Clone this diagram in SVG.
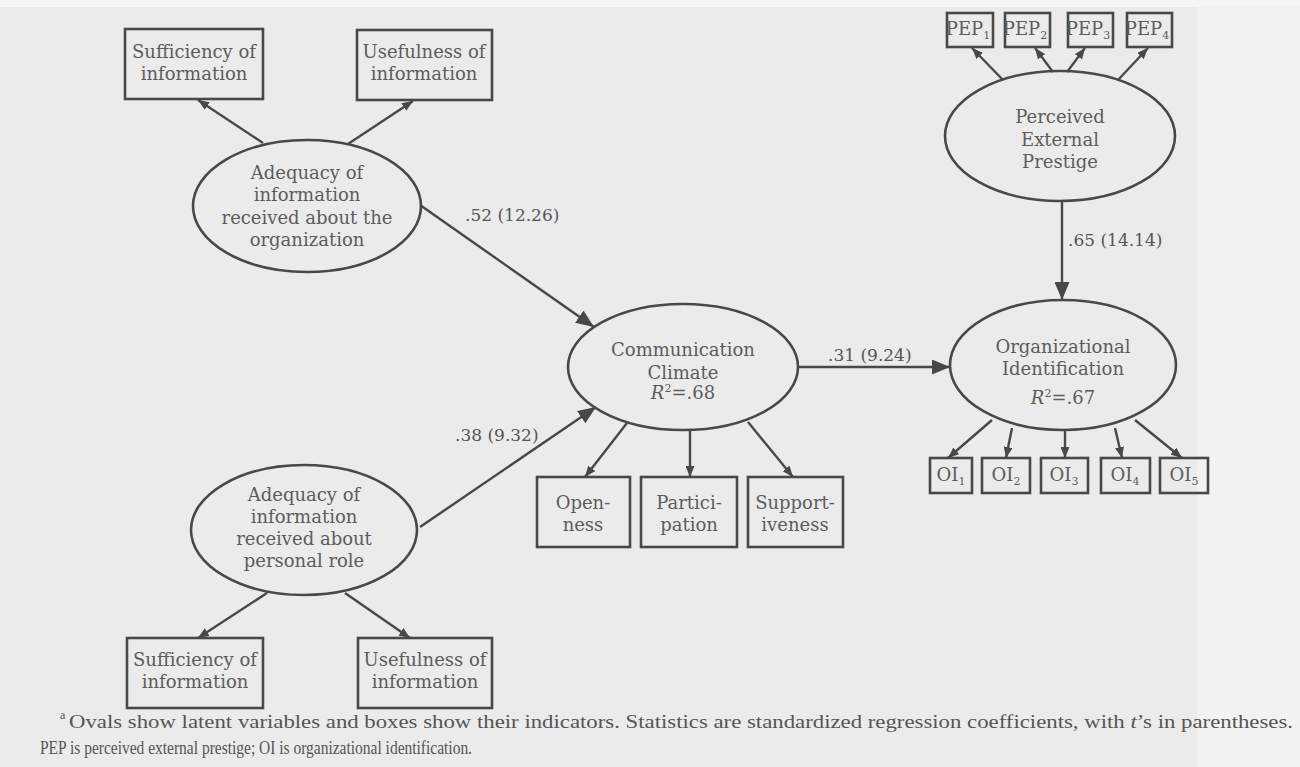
<svg xmlns="http://www.w3.org/2000/svg" width="1300" height="767" viewBox="0 0 1300 767">
<style>
.bg{fill:#ebebeb}
.node ellipse,.node rect{fill:none;stroke:#484848;stroke-width:2.6}
.t{font-family:"DejaVu Serif","Liberation Serif",serif;font-size:18px;fill:#5c5c5c;text-anchor:middle}
.lbl{font-family:"DejaVu Serif","Liberation Serif",serif;font-size:17px;fill:#555;text-anchor:start}
.ind line{stroke:#484848;stroke-width:2.4;marker-end:url(#ah)}
.path line{stroke:#484848;stroke-width:2.4;marker-end:url(#ahb)}
.fn{font-family:"Liberation Serif",serif;font-size:19px;fill:#555}
.sup{font-family:"Liberation Serif",serif;font-size:12px;fill:#555}
</style>
<defs>
<marker id="ah" viewBox="0 0 10 10" refX="10" refY="5" markerWidth="11" markerHeight="9" markerUnits="userSpaceOnUse" orient="auto" preserveAspectRatio="none"><path d="M0,0 L10,5 L0,10 z" fill="#484848"/></marker>
<marker id="ahb" viewBox="0 0 10 10" refX="10" refY="5" markerWidth="18" markerHeight="15" markerUnits="userSpaceOnUse" orient="auto" preserveAspectRatio="none"><path d="M0,0 L10,5 L0,10 z" fill="#484848"/></marker>
</defs>
<rect class="bg" x="0" y="0" width="1300" height="767"/>
<rect x="1197" y="0" width="103" height="767" fill="#f2f2f2"/>
<rect x="0" y="0" width="1300" height="7" fill="#f6f6f6"/>

<g id="connectors">
<g class="ind">
<line x1="263" y1="143" x2="198" y2="100"/>
<line x1="348" y1="144" x2="413" y2="101"/>
<line x1="267" y1="593" x2="198" y2="638"/>
<line x1="345" y1="593" x2="410" y2="638"/>
<line x1="627" y1="423" x2="585" y2="477"/>
<line x1="690" y1="430" x2="690" y2="477"/>
<line x1="748" y1="422" x2="793" y2="477"/>
<line x1="1003" y1="80" x2="972" y2="48"/>
<line x1="1053" y1="72" x2="1035" y2="48"/>
<line x1="1067" y1="72" x2="1085" y2="48"/>
<line x1="1118" y1="80" x2="1148" y2="48"/>
<line x1="992" y1="420" x2="948" y2="458"/>
<line x1="1012" y1="428" x2="1006" y2="458"/>
<line x1="1065" y1="430" x2="1065" y2="458"/>
<line x1="1115" y1="428" x2="1122" y2="458"/>
<line x1="1135" y1="420" x2="1182" y2="458"/>
</g>
<g class="path">
<line x1="420" y1="205" x2="594" y2="327"/>
<line x1="420" y1="527" x2="596" y2="407"/>
<line x1="798" y1="367" x2="950" y2="367"/>
<line x1="1062" y1="201" x2="1062" y2="300"/>
</g>
<text class="lbl" x="465" y="221">.52 (12.26)</text>
<text class="lbl" x="455" y="441">.38 (9.32)</text>
<text class="lbl" x="828" y="361">.31 (9.24)</text>
<text class="lbl" x="1068" y="246">.65 (14.14)</text>
</g>

<g id="suff-org" class="node"><rect x="125" y="29" width="138" height="70"/><text class="t" x="194" y="58">Sufficiency of</text><text class="t" x="194" y="80">information</text></g>
<g id="use-org" class="node"><rect x="357" y="30" width="135" height="70"/><text class="t" x="424" y="58">Usefulness of</text><text class="t" x="424" y="80">information</text></g>
<g id="adeq-org" class="node"><ellipse cx="307" cy="206" rx="114" ry="66"/>
<text class="t" x="307" y="179">Adequacy of</text><text class="t" x="307" y="201">information</text><text class="t" x="307" y="224">received about the</text><text class="t" x="307" y="246">organization</text></g>

<g id="adeq-role" class="node"><ellipse cx="304" cy="530" rx="113" ry="65"/>
<text class="t" x="304" y="501">Adequacy of</text><text class="t" x="304" y="523">information</text><text class="t" x="304" y="545">received about</text><text class="t" x="304" y="567">personal role</text></g>
<g id="suff-role" class="node"><rect x="127" y="638" width="136" height="70"/><text class="t" x="195" y="666">Sufficiency of</text><text class="t" x="195" y="688">information</text></g>
<g id="use-role" class="node"><rect x="358" y="638" width="134" height="70"/><text class="t" x="425" y="666">Usefulness of</text><text class="t" x="425" y="688">information</text></g>

<g id="comm" class="node"><ellipse cx="683" cy="367" rx="115" ry="63"/>
<text class="t" x="683" y="356">Communication</text><text class="t" x="683" y="379">Climate</text>
<text class="t" x="683" y="399"><tspan font-style="italic">R</tspan><tspan font-size="11" dy="-7">2</tspan><tspan dy="7">=.68</tspan></text></g>
<g id="open" class="node"><rect x="537" y="477" width="93" height="70"/><text class="t" x="583" y="509">Open-</text><text class="t" x="583" y="531">ness</text></g>
<g id="part" class="node"><rect x="641" y="477" width="96" height="70"/><text class="t" x="689" y="509">Partici-</text><text class="t" x="689" y="531">pation</text></g>
<g id="supp" class="node"><rect x="748" y="477" width="95" height="70"/><text class="t" x="795" y="509">Support-</text><text class="t" x="795" y="531">iveness</text></g>

<g id="pep" class="node"><ellipse cx="1060" cy="136" rx="115" ry="65"/>
<text class="t" x="1060" y="123">Perceived</text><text class="t" x="1060" y="146">External</text><text class="t" x="1060" y="168">Prestige</text></g>
<g id="pep1" class="node"><rect x="947" y="13" width="46" height="34"/><text class="t" x="968" y="35">PEP<tspan font-size="11" dy="4">1</tspan></text></g>
<g id="pep2" class="node"><rect x="1005" y="13" width="45" height="34"/><text class="t" x="1025" y="35">PEP<tspan font-size="11" dy="4">2</tspan></text></g>
<g id="pep3" class="node"><rect x="1068" y="13" width="45" height="34"/><text class="t" x="1088" y="35">PEP<tspan font-size="11" dy="4">3</tspan></text></g>
<g id="pep4" class="node"><rect x="1127" y="13" width="45" height="34"/><text class="t" x="1147" y="35">PEP<tspan font-size="11" dy="4">4</tspan></text></g>

<g id="oi" class="node"><ellipse cx="1063" cy="365" rx="113" ry="65"/>
<text class="t" x="1063" y="353">Organizational</text><text class="t" x="1063" y="375">Identification</text>
<text class="t" x="1063" y="404"><tspan font-style="italic">R</tspan><tspan font-size="11" dy="-7">2</tspan><tspan dy="7">=.67</tspan></text></g>
<g id="oi1" class="node"><rect x="930" y="458" width="42" height="35"/><text class="t" x="951" y="481">OI<tspan font-size="11" dy="4">1</tspan></text></g>
<g id="oi2" class="node"><rect x="982" y="458" width="48" height="35"/><text class="t" x="1006" y="481">OI<tspan font-size="11" dy="4">2</tspan></text></g>
<g id="oi3" class="node"><rect x="1041" y="458" width="47" height="35"/><text class="t" x="1064" y="481">OI<tspan font-size="11" dy="4">3</tspan></text></g>
<g id="oi4" class="node"><rect x="1101" y="458" width="49" height="35"/><text class="t" x="1125" y="481">OI<tspan font-size="11" dy="4">4</tspan></text></g>
<g id="oi5" class="node"><rect x="1160" y="458" width="48" height="35"/><text class="t" x="1184" y="481">OI<tspan font-size="11" dy="4">5</tspan></text></g>

<g id="footnote">
<text class="sup" x="60" y="719">a</text>
<text class="fn" x="69" y="728" textLength="1224" lengthAdjust="spacingAndGlyphs">Ovals show latent variables and boxes show their indicators. Statistics are standardized regression coefficients, with <tspan font-style="italic">t</tspan>’s in parentheses.</text>
<text class="fn" x="40" y="754" textLength="432" lengthAdjust="spacingAndGlyphs">PEP is perceived external prestige; OI is organizational identification.</text>
</g>
</svg>
